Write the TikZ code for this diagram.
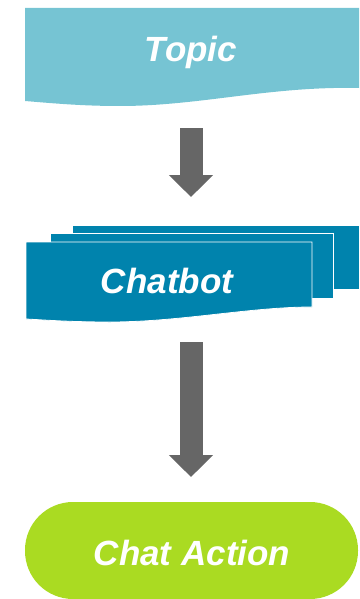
\documentclass[tikz,border=0pt]{standalone}
\usepackage{fontspec}
\setmainfont{Liberation Sans}
\usetikzlibrary{arrows.meta}
\definecolor{topicblue}{HTML}{76C4D3}
\definecolor{botblue}{HTML}{0083AD}
\definecolor{actgreen}{HTML}{AADB22}
\definecolor{arrgray}{HTML}{666666}

\begin{document}
\begin{tikzpicture}[x=1pt, y=-1pt,
  lbl/.style={font=\fontsize{35}{40}\selectfont\bfseries\itshape,
              text=white, anchor=base, inner sep=0pt},
  sheet/.style={fill=botblue, draw=white, line width=0.8pt},
  blockarr/.style={draw=arrgray, line width=23pt,
                   -{Triangle[length=22pt,width=43pt]}}
]
  \useasboundingbox (0,0) rectangle (359,599);

  % Topic banner (wavy bottom)
  \fill[topicblue] (25,8) -- (359,8) -- (359,88)
      .. controls (270,86) and (200,106) .. (120,106)
      .. controls (80,106) and (50,103) .. (25,101) -- cycle;

  % Chatbot: three stacked sheets
  \path[sheet] (72,225) rectangle (359,289);
  \path[sheet] (50,233) rectangle (333,298);
  \path[sheet] (26,242) -- (312,242) -- (312,307)
      .. controls (250,307) and (180,322) .. (110,322)
      .. controls (70,322) and (45,320) .. (26,319) -- cycle;

  % Chat Action pill
  \fill[actgreen, rounded corners=48pt] (25,502) rectangle (358,599);

  % Labels
  \node[lbl] at (191,62)  (topic)   {Topic};
  \node[lbl] at (167,293) (chatbot) {Chatbot};
  \node[lbl] at (192,565) (action)  {Chat Action};

  % Block arrows
  \draw[blockarr, shorten <=66pt, shorten >=96pt]
      (topic.base) -- (topic.base |- chatbot.base);
  \draw[blockarr, shorten <=49pt, shorten >=88pt]
      (topic.base |- chatbot.base) -- (topic.base |- action.base);

\end{tikzpicture}
\end{document}
